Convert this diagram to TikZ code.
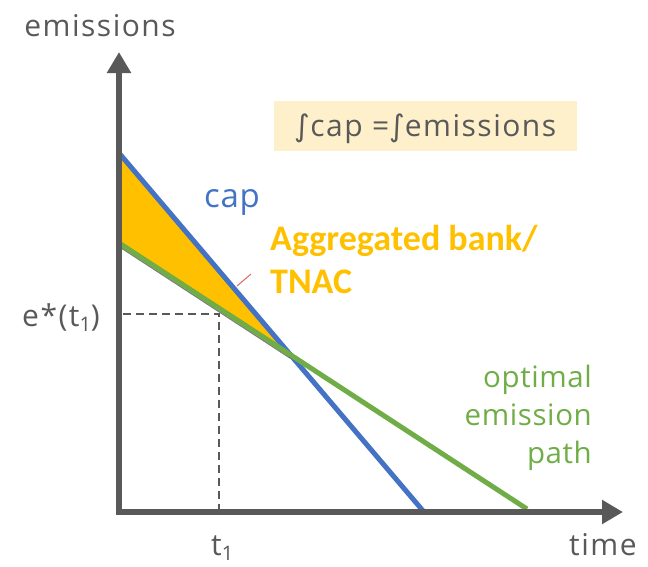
\documentclass[tikz,border=0pt]{standalone}
\usepackage{fontspec}
\setmainfont{Open Sans}
\newfontfamily\grayfont[LetterSpace=5]{Open Sans}
\newfontfamily\greenfont[LetterSpace=2]{Open Sans}
\newfontfamily\calfont{Carlito}
\newfontfamily\djfont{DejaVu Sans}
\usetikzlibrary{arrows.meta,calc}
\definecolor{axisgray}{HTML}{595959}
\definecolor{capblue}{HTML}{4472C4}
\definecolor{optgreen}{HTML}{70AD47}
\definecolor{bankorange}{HTML}{FFC000}
\definecolor{boxpeach}{HTML}{FFF0CC}
\definecolor{calloutred}{HTML}{E06666}
\tikzset{
  axisline/.style={draw=axisgray, line width=6pt, miter limit=10,
    {Triangle[length=21pt,width=23pt]}-{Triangle[length=21pt,width=23pt]}},
  capline/.style={draw=capblue, line width=5pt},
  optline/.style={draw=optgreen, line width=5pt},
  shadowline/.style={draw=black!75, line width=1.2pt, opacity=0.7},
  guide/.style={draw=axisgray, line width=2pt, dash pattern=on 8pt off 5pt},
  graylabel/.style={inner sep=0pt, text=axisgray, font=\grayfont\fontsize{30}{34}\selectfont},
  banklabel/.style={inner sep=0pt, text=bankorange, font=\calfont\bfseries\fontsize{36}{43}\selectfont},
  greenlabel/.style={inner sep=0pt, text=optgreen, font=\greenfont\fontsize{29.5}{38}\selectfont},
}
\newcommand{\subone}{\raisebox{-5pt}{\fontsize{20}{20}\selectfont 1}}
\begin{document}
\begin{tikzpicture}[x=1pt,y=-1pt]
\useasboundingbox (0,0) rectangle (648,566);
% key points
\coordinate (O) at (119,512);
\coordinate (ytip) at (119,52);
\coordinate (xtip) at (623,512);
\coordinate (capA) at (119,153);
\coordinate (capB) at (424,512);
\coordinate (optA) at (119,243);
\coordinate (optB) at (527,509);
\coordinate (X) at (intersection of capA--capB and optA--optB);
\coordinate (E) at (219,313.5);
\coordinate (Eh) at (123,313.5);
\coordinate (Ev) at (219,509);
\coordinate (c1) at (237,286);
\coordinate (c2) at (251,274);
% bank area
\fill[bankorange] (capA) -- (X) -- (optA) -- cycle;
% guides
\draw[guide] (Eh) -- (E) -- (Ev);
% lines
\draw[capline] (capA) -- (capB);
\draw[shadowline] ([yshift=-3.5pt]optA) -- ([yshift=-3.5pt]X);
\draw[optline] (optA) -- (optB);
\draw[calloutred, line width=1pt] (c1) -- (c2);
% axes
\draw[axisline] (ytip) -- (O) -- (xtip);
% texts
\node[graylabel, anchor=base] (ylab) at (100,36) {emissions};
\node[graylabel, anchor=base west] (xlab) at (569,555) {time};
\node[graylabel, anchor=base west] (tlab) at (211,555) {t\subone};
\node[graylabel, anchor=base west] (elab) at (22,326) {e*(t\subone)};
\node[graylabel, anchor=base, fill=boxpeach, minimum width=303pt, text height=35pt, text depth=15pt]
  (formula) at (425.5,136) {{\djfont ∫}cap ={\djfont ∫}emissions};
\node[inner sep=0pt, text=capblue, font=\greenfont\fontsize{33}{38}\selectfont, anchor=base west]
  (caplab) at (204,207) {cap};
\node[banklabel, anchor=base west] (bank1) at (270,250) {Aggregated bank/};
\node[banklabel, anchor=base west] (bank2) at (270,293) {TNAC};
\node[greenlabel, anchor=base east] (opt1) at (592,387) {optimal};
\node[greenlabel, anchor=base east] (opt2) at (592,425) {emission};
\node[greenlabel, anchor=base east] (opt3) at (592,463) {path};
\end{tikzpicture}
\end{document}
